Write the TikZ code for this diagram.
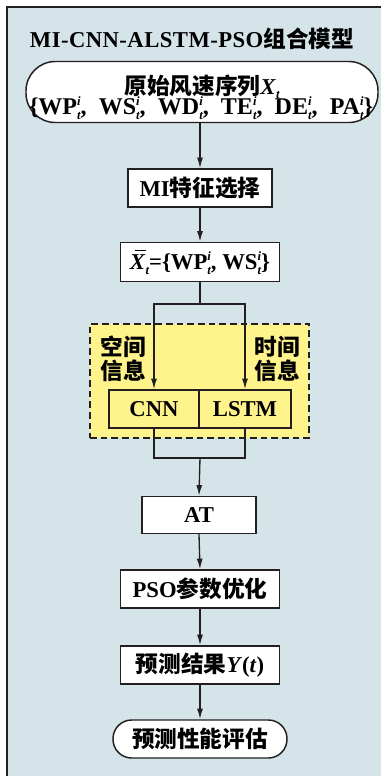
\documentclass[tikz,border=0pt]{standalone}
\usepackage{fontspec}
\setmainfont{Liberation Serif}
\newfontfamily\cjkfont{Noto Sans CJK SC Bold}
\newcommand\zh[1]{{\cjkfont #1}}
\newcommand\ssub[2]{\makebox[0pt][l]{\raisebox{0.36em}{\fontsize{9.5}{10}\selectfont\itshape #1}}\raisebox{-0.22em}{\fontsize{9.5}{10}\selectfont\itshape #2}}
\newcommand\osub[1]{\raisebox{-0.22em}{\fontsize{9.5}{10}\selectfont\itshape #1}}
\usetikzlibrary{arrows.meta}
\definecolor{bg}{HTML}{D5E4E9}
\definecolor{yel}{HTML}{FFF38C}
\definecolor{ink}{HTML}{231F20}
\tikzset{
  box/.style={draw=ink, fill=white, line width=1.1pt, inner sep=0pt, minimum height=28.5pt},
  stadium/.style={box, rounded corners=14pt},
  wire/.style={draw=ink, line width=1pt},
  arr/.style={wire, -{Latex[length=8pt,width=4.5pt]}},
  lbl/.style={inner sep=0pt, align=center}
}
\begin{document}
\begin{tikzpicture}[x=0.75pt,y=-0.75pt, font=\fontsize{17}{19}\selectfont\bfseries]
\useasboundingbox (0,0) rectangle (381,776);
\fill[bg] (7,7) rectangle (381,776);
\draw[ink, line width=1.5pt] (381,7) -- (7,7) -- (7,776);

\node[lbl] (title) at (192,39) {\addfontfeature{LetterSpace=2}MI-CNN-ALSTM-PSO\zh{组合模型}};

\node[box, rounded corners=22pt, minimum width=264pt, minimum height=45.75pt] (raw) at (202,92) {};
\node[lbl, anchor=base] (rawa) at (202,94) {\zh{原始风速序列}\textit{X}\osub{t}};
\node[lbl, anchor=base] (rawb) at (201,114) {\fontsize{18}{19}\selectfont\makebox[258pt][s]{\{WP\ssub{i}{t}, WS\ssub{i}{t}, WD\ssub{i}{t}, TE\ssub{i}{t}, DE\ssub{i}{t}, PA\ssub{i}{t}\}}};

\node[box, minimum width=108pt] (mi) at (200,188) {MI\zh{特征选择}};
\node[box, minimum width=119.25pt, minimum height=29.25pt] (xbar) at (200,262)
  {\makebox[0pt][l]{\hspace{0.2em}\rule[0.78em]{0.5em}{0.07em}}\textit{X}\osub{t}=\{WP\ssub{i}{t}, WS\ssub{i}{t}\}};

\node[draw=ink, fill=yel, dashed, dash pattern=on 5pt off 3pt, line width=1.1pt, minimum width=164.25pt, minimum height=85.5pt, inner sep=0pt] (region) at (199.5,381) {};
\node[lbl] (spat) at (123,359) {\zh{空间}\\[-1pt]\zh{信息}};
\node[lbl] (temp) at (277,359) {\zh{时间}\\[-1pt]\zh{信息}};
\node[box, fill=yel, minimum width=67.5pt] (cnn) at (154,409) {CNN};
\node[box, fill=yel, minimum width=69pt] (lstm) at (245,409) {LSTM};

\node[box, minimum width=85.5pt, minimum height=27.75pt] (at) at (199,515) {AT};
\node[box, minimum width=119.25pt] (pso) at (200,589) {PSO\zh{参数优化}};
\node[box, minimum width=119.25pt] (res) at (200,665) {\zh{预测结果}\textit{Y}(\textit{t})};
\node[stadium, minimum width=130.5pt] (eval) at (200,739) {\zh{预测性能评估}};

\coordinate (split) at (200,304);
\coordinate (join) at (200,458);

\draw[arr] (raw.south -| mi.north) -- (mi.north);
\draw[arr] (mi.south) -- (xbar.north);
\draw[wire] (xbar.south) -- (split);
\draw[arr] (split) -| (cnn.north);
\draw[arr] (split) -| (lstm.north);
\draw[wire] (cnn.south) |- (join) -| (lstm.south);
\draw[arr] (join) -- (at.north);
\draw[arr] (at.south) -- (pso.north);
\draw[arr] (pso.south) -- (res.north);
\draw[arr] (res.south) -- (eval.north);
\end{tikzpicture}
\end{document}
